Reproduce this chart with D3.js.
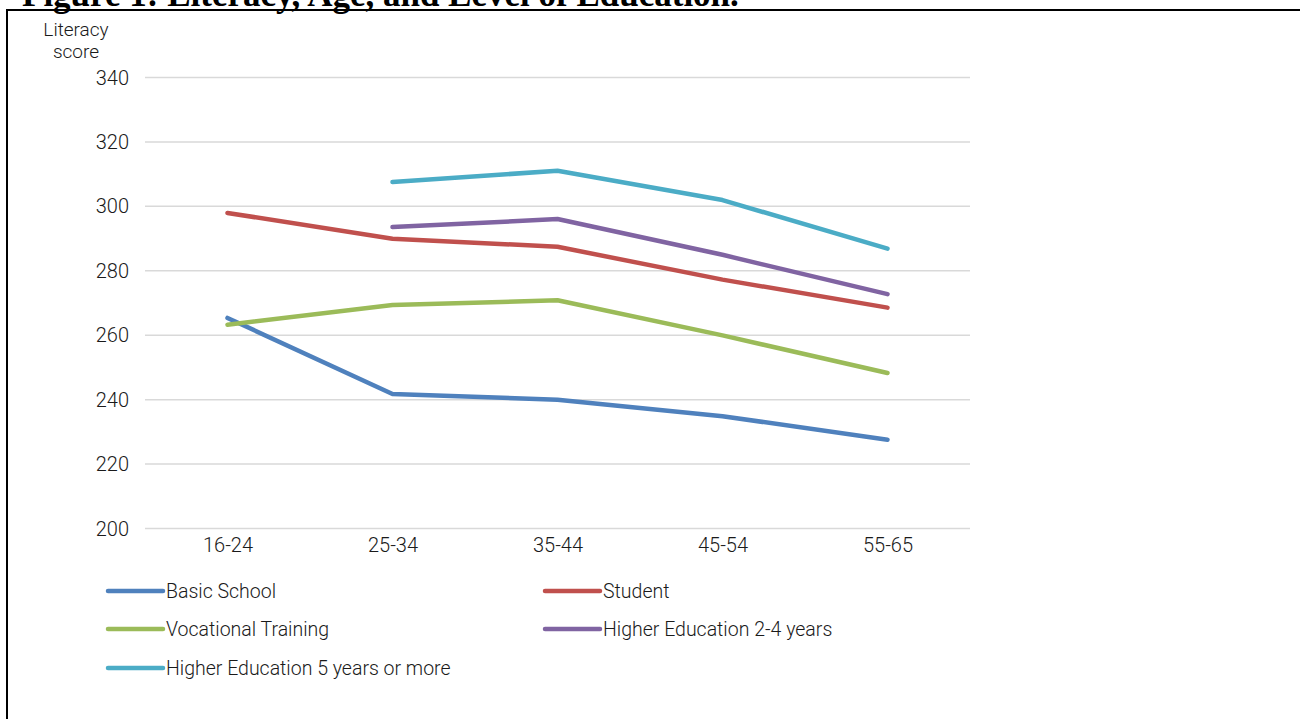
<!DOCTYPE html>
<html>
<head>
<meta charset="utf-8">
<script src="https://cdn.jsdelivr.net/npm/d3@7"></script>
<style>
  html, body { margin: 0; padding: 0; background: #fff; }
  svg { display: block; }
</style>
</head>
<body>
<svg id="chart" width="1300" height="719"></svg>
<script>
// Age groups on the x axis
const ageGroups = ["16-24", "25-34", "35-44", "45-54", "55-65"];

// Mean literacy score by age group for each level of education (null = no value)
const basicSchool = [265.2, 241.6, 239.8, 234.7, 227.4];
const student = [297.8, 289.8, 287.3, 277.1, 268.4];
const vocationalTraining = [263.1, 269.2, 270.7, 259.8, 248.1];
const higherEd2to4 = [null, 293.4, 295.9, 284.8, 272.6];
const higherEd5plus = [null, 307.4, 310.9, 301.8, 286.7];

const seriesNames = [
  "Basic School", "Student", "Vocational Training",
  "Higher Education 2-4 years", "Higher Education 5 years or more"
];
const seriesColors = ["#4F81BD", "#C0504D", "#9BBB59", "#8064A2", "#4BACC6"];
const yTicks = [200, 220, 240, 260, 280, 300, 320, 340];

const seriesData = [basicSchool, student, vocationalTraining, higherEd2to4, higherEd5plus];
const series = seriesNames.map((name, i) => ({ name, color: seriesColors[i], values: seriesData[i] }));

const svg = d3.select("#chart");
const font = "Roboto, 'Open Sans', sans-serif";
const textColor = "#1a1a1a";

// Page frame and heading
svg.append("text")
  .attr("x", 22).attr("y", 6)
  .attr("font-family", "'Liberation Serif', 'Times New Roman', serif")
  .attr("font-weight", "bold").attr("font-size", 35)
  .attr("fill", "#000")
  .text("Figure 1: Literacy, Age, and Level of Education.");
svg.append("path")
  .attr("d", "M7,720 V10 H1300")
  .attr("fill", "none").attr("stroke", "#000").attr("stroke-width", 2);

const plot = { left: 145, right: 970, top: 77, bottom: 528 };

const x = d3.scalePoint().domain(ageGroups).range([plot.left, plot.right]).padding(0.5);
const y = d3.scaleLinear().domain([200, 340]).range([plot.bottom, plot.top]);

// Horizontal gridlines with y labels
const yAxis = d3.axisLeft(y).tickValues(yTicks).tickSize(-(plot.right - plot.left)).tickPadding(16).tickFormat(d3.format("d"));
const gy = svg.append("g").attr("transform", `translate(${plot.left},0)`).call(yAxis);
gy.select(".domain").remove();
gy.selectAll(".tick line").attr("stroke", "#d9d9d9").attr("stroke-width", 1.5);
gy.selectAll(".tick text")
  .attr("font-family", font).attr("font-size", 20).attr("font-weight", 300)
  .attr("fill", textColor).attr("dy", "0.35em");

// Category labels below the axis
const xAxis = d3.axisBottom(x).tickSize(0).tickPadding(10);
const gx = svg.append("g").attr("transform", `translate(0,${plot.bottom})`).call(xAxis);
gx.select(".domain").remove();
gx.selectAll(".tick text")
  .attr("font-family", font).attr("font-size", 20).attr("font-weight", 300)
  .attr("fill", textColor);

// Axis title
svg.append("text")
  .attr("x", 76).attr("y", 36)
  .attr("text-anchor", "middle")
  .attr("font-family", font).attr("font-size", 19).attr("font-weight", 300).attr("fill", textColor)
  .selectAll("tspan").data(["Literacy", "score"]).join("tspan")
  .attr("x", 76).attr("dy", (d, i) => i === 0 ? 0 : 22)
  .text(d => d);

// Lines
const line = d3.line()
  .defined(d => d.v != null)
  .x(d => x(d.age))
  .y(d => y(d.v));

svg.append("g").selectAll("path").data(series).join("path")
  .attr("d", s => line(s.values.map((v, i) => ({ age: ageGroups[i], v }))))
  .attr("fill", "none")
  .attr("stroke", s => s.color)
  .attr("stroke-width", 4.5)
  .attr("stroke-linecap", "round")
  .attr("stroke-linejoin", "round");

// Legend in two columns
const legendCols = [108, 545];
const legendRows = [591, 629, 668];
const legend = svg.append("g").selectAll("g").data(series).join("g")
  .attr("transform", (s, i) => `translate(${legendCols[i % 2]},${legendRows[Math.floor(i / 2)]})`);
legend.append("line")
  .attr("x1", 0).attr("x2", 55).attr("y1", 0).attr("y2", 0)
  .attr("stroke", s => s.color).attr("stroke-width", 4.5).attr("stroke-linecap", "round");
legend.append("text")
  .attr("x", 58).attr("y", 0).attr("dy", "0.35em")
  .attr("font-family", font).attr("font-size", 19.5).attr("font-weight", 300).attr("fill", textColor)
  .text(s => s.name);
</script>
</body>
</html>
